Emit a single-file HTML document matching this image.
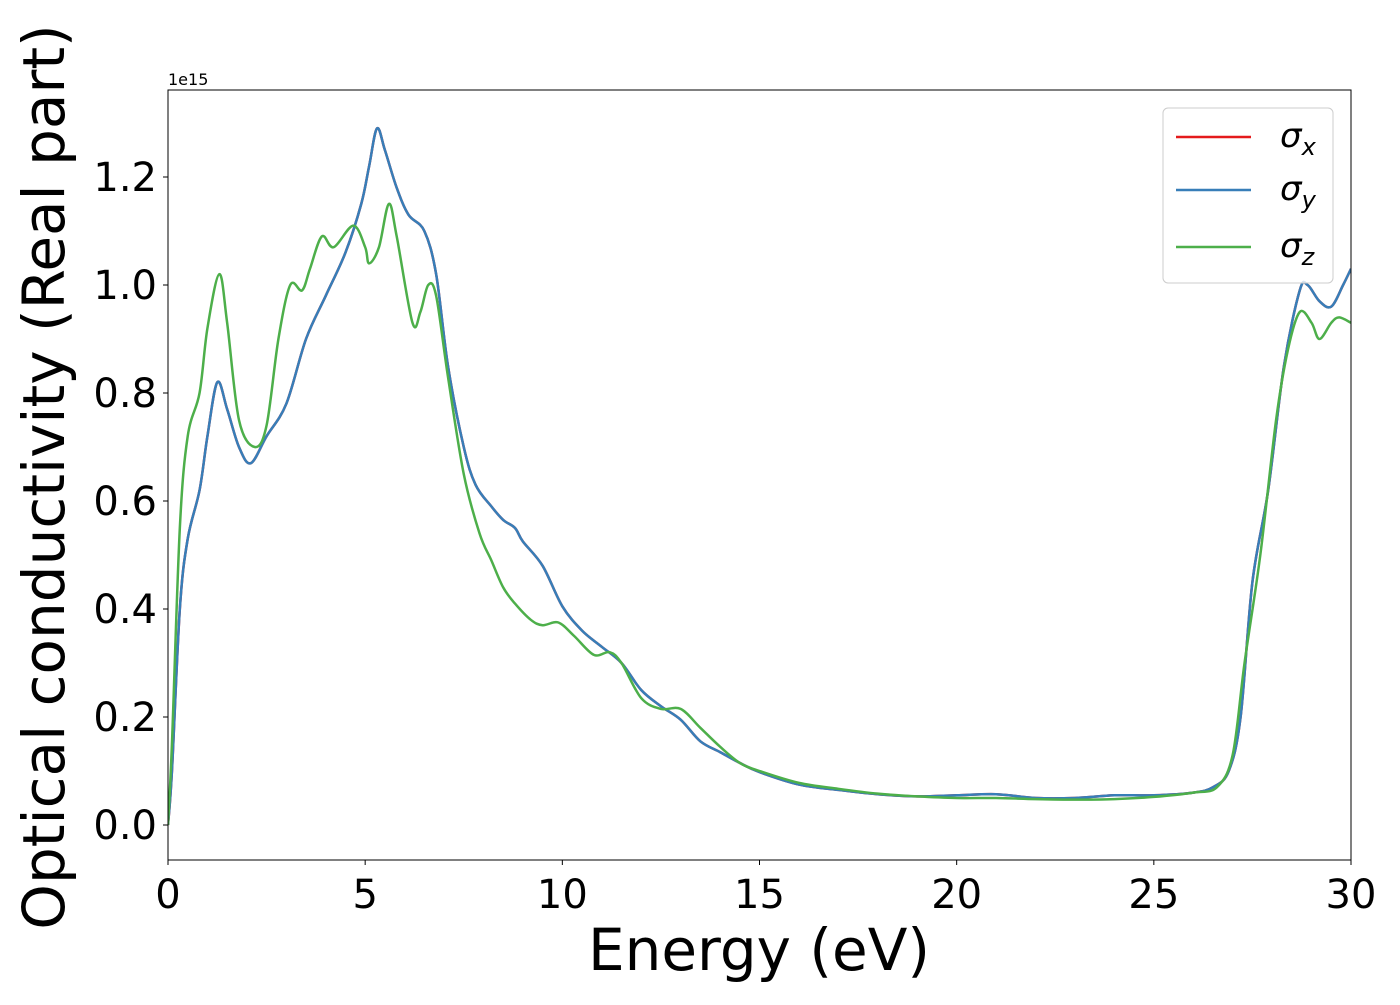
<!DOCTYPE html>
<html><head><meta charset="utf-8"><style>
html,body{margin:0;padding:0;background:#fff;}
text{font-family:"DejaVu Sans","Liberation Sans",sans-serif;}
</style></head><body>
<svg id="chart" width="1400" height="1000" xmlns="http://www.w3.org/2000/svg">
<rect width="1400" height="1000" fill="#fff"/>
<g id="plot"></g>
<g id="axes"></g>
</svg>
<script>
const energyBlue=[0,0.1,0.3,0.5,0.8,1.0,1.25,1.5,1.8,2.1,2.5,3.0,3.5,4.0,4.5,4.9,5.1,5.3,5.5,5.8,6.1,6.5,6.8,7.1,7.5,7.8,8.2,8.5,8.8,9.0,9.5,10,10.5,11,11.5,12,12.5,13,13.5,14,14.5,15,16,17,18,19,20,21,22,23,24,25,26,26.5,26.9,27.2,27.5,27.9,28.3,28.7,28.9,29.2,29.5,29.8,30];
const sigmaY=[0.0,0.1,0.4,0.53,0.62,0.72,0.82,0.77,0.7,0.67,0.72,0.78,0.9,0.98,1.06,1.15,1.22,1.29,1.25,1.18,1.13,1.1,1.02,0.85,0.7,0.63,0.59,0.565,0.55,0.525,0.48,0.405,0.36,0.33,0.3,0.25,0.22,0.195,0.155,0.135,0.115,0.098,0.075,0.065,0.057,0.053,0.055,0.057,0.05,0.05,0.055,0.055,0.06,0.07,0.1,0.2,0.45,0.62,0.85,0.99,1.0,0.97,0.96,1.0,1.03];
const sigmaX=sigmaY.slice();
const energyGreen=[0,0.1,0.3,0.5,0.8,1.0,1.3,1.5,1.8,2.2,2.5,2.8,3.1,3.4,3.6,3.9,4.2,4.7,5.0,5.1,5.35,5.6,5.8,6.2,6.4,6.6,6.8,7.1,7.5,7.9,8.2,8.5,8.8,9.2,9.5,9.9,10.3,10.8,11.2,11.5,12,12.5,13,13.5,14,14.5,15,16,17,18,19,20,21,22,23,24,25,26,26.6,27,27.3,27.7,28.1,28.4,28.7,29.0,29.2,29.5,29.7,30];
const sigmaZ=[0,0.15,0.55,0.72,0.8,0.92,1.02,0.93,0.75,0.70,0.74,0.9,1.0,0.99,1.03,1.09,1.07,1.11,1.07,1.04,1.07,1.15,1.09,0.93,0.95,1.0,0.98,0.83,0.65,0.54,0.49,0.44,0.41,0.38,0.37,0.375,0.35,0.315,0.32,0.3,0.235,0.215,0.215,0.18,0.145,0.115,0.1,0.078,0.067,0.058,0.053,0.05,0.05,0.048,0.047,0.048,0.052,0.06,0.07,0.13,0.3,0.5,0.75,0.88,0.95,0.93,0.9,0.93,0.94,0.93];
const xTicks=[0,5,10,15,20,25,30];
const yTicks=[0.0,0.2,0.4,0.6,0.8,1.0,1.2];
const legendLabels=["x","y","z"];

const X0=168,X1=1351,Y0=90,Y1=860;
const xs=v=>X0+(v/30)*(X1-X0);
const ys=v=>825-v*540;
const NS="http://www.w3.org/2000/svg";
const plot=document.getElementById('plot'),axes=document.getElementById('axes');
function mk(tag,attrs,parent){const e=document.createElementNS(NS,tag);for(const k in attrs)e.setAttribute(k,attrs[k]);parent.appendChild(e);return e;}
function pathD(xa,ya){const p=xa.map((x,i)=>[xs(x),ys(ya[i])]);let d=`M${p[0][0]},${p[0][1]}`;
for(let i=0;i<p.length-1;i++){const a=p[Math.max(0,i-1)],b=p[i],c=p[i+1],e=p[Math.min(p.length-1,i+2)];
const c1=[b[0]+(c[0]-a[0])/6,b[1]+(c[1]-a[1])/6],c2=[c[0]-(e[0]-b[0])/6,c[1]-(e[1]-b[1])/6];
d+=` C${c1[0]},${c1[1]} ${c2[0]},${c2[1]} ${c[0]},${c[1]}`;}return d;}
mk('clipPath',{id:'clip'},plot).appendChild(Object.assign(document.createElementNS(NS,'rect'),{}));
plot.querySelector('clipPath').firstChild.setAttribute('x',X0);plot.querySelector('clipPath').firstChild.setAttribute('y',Y0);
plot.querySelector('clipPath').firstChild.setAttribute('width',X1-X0);plot.querySelector('clipPath').firstChild.setAttribute('height',Y1-Y0);
const series=[[energyBlue,sigmaX,'#e41a1c','sigma-x-line'],[energyBlue,sigmaY,'#377eb8','sigma-y-line'],[energyGreen,sigmaZ,'#4daf4a','sigma-z-line']];
series.forEach(s=>{const el=mk('path',{d:pathD(s[0],s[1]),fill:'none',stroke:s[2],'stroke-width':2.5,'clip-path':'url(#clip)'},plot);

});
const frame=mk('rect',{x:X0,y:Y0,width:X1-X0,height:Y1-Y0,fill:'none',stroke:'#000','stroke-width':1},axes);


xTicks.forEach(t=>{mk('line',{x1:xs(t),x2:xs(t),y1:Y1,y2:Y1+5,stroke:'#000'},axes);
const tx=mk('text',{x:xs(t),y:908,'font-size':40,'text-anchor':'middle'},axes);tx.textContent=t;

});
yTicks.forEach(t=>{mk('line',{x1:X0-5,x2:X0,y1:ys(t),y2:ys(t),stroke:'#000'},axes);
const tx=mk('text',{x:157,y:ys(t)+14,'font-size':40,'text-anchor':'end'},axes);tx.textContent=t.toFixed(1);

});
const leg=mk('rect',{x:1163,y:108,width:170,height:175,rx:5,fill:'#fff','fill-opacity':0.8,stroke:'#ccc','stroke-width':1},axes);


const ly=[137,190,247];
legendLabels.forEach((l,i)=>{mk('line',{x1:1176,x2:1251,y1:ly[i],y2:ly[i],stroke:series[i][2],'stroke-width':2.5},axes);
const tx=mk('text',{x:1280,y:ly[i]+10,'font-size':34,'font-style':'italic'},axes);
tx.innerHTML='σ<tspan font-size="24" dy="8">'+l+'</tspan>';

});
</script>
<svg style="position:absolute;left:0;top:0" width="1400" height="1000" xmlns="http://www.w3.org/2000/svg">
<text x="168" y="85" font-size="16">1e15</text>
<text x="759" y="970" font-size="58" text-anchor="middle">Energy (eV)</text>
<text transform="translate(64,477) rotate(-90)" font-size="58" text-anchor="middle">Optical conductivity (Real part)</text>
</svg>
</body></html>
